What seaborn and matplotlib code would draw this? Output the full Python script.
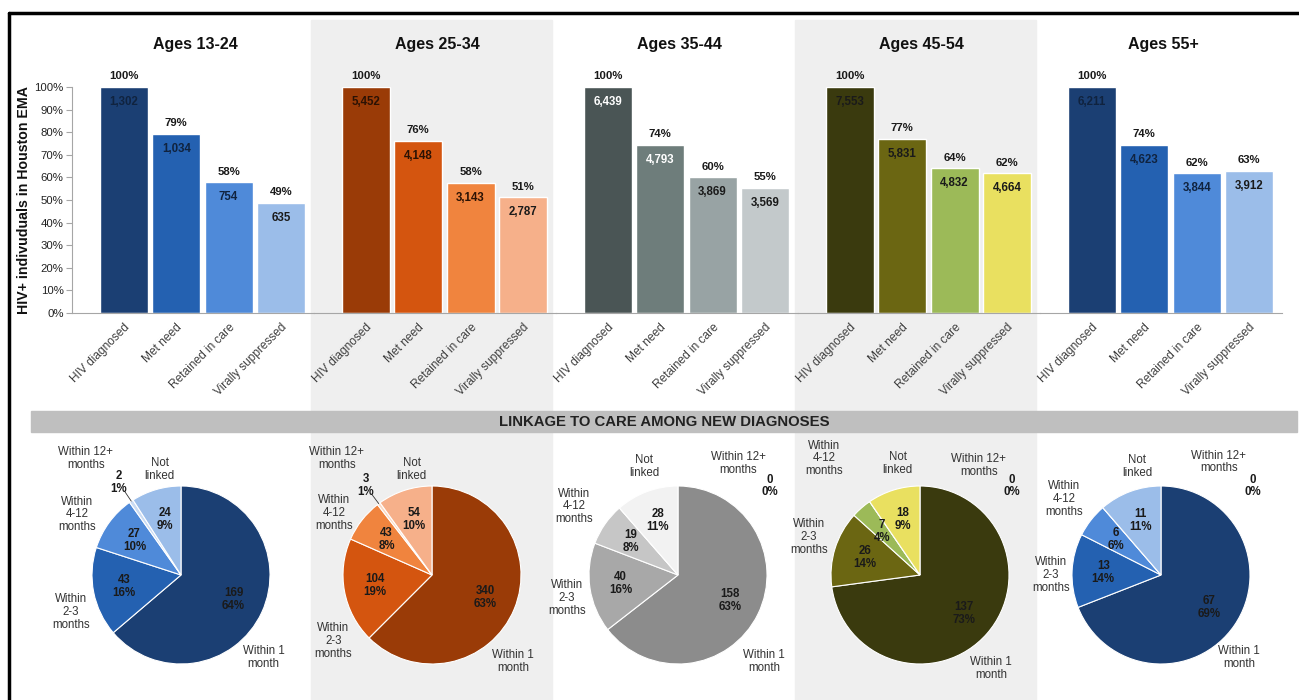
import numpy as np
import pandas as pd
import matplotlib.pyplot as plt
import seaborn as sns
from matplotlib.patches import Rectangle
from matplotlib.lines import Line2D
from matplotlib.ticker import PercentFormatter

sns.set_style("white")
plt.rcParams['font.family'] = ['Liberation Sans', 'DejaVu Sans']

# care continuum by age group
age_groups = ["Ages 13-24", "Ages 25-34", "Ages 35-44", "Ages 45-54", "Ages 55+"]
steps = ["HIV diagnosed", "Met need", "Retained in care", "Virally suppressed"]
counts_1324 = [1302, 1034, 754, 635]
counts_2534 = [5452, 4148, 3143, 2787]
counts_3544 = [6439, 4793, 3869, 3569]
counts_4554 = [7553, 5831, 4832, 4664]
counts_55 = [6211, 4623, 3844, 3912]
pct_1324 = [100, 79, 58, 49]
pct_2534 = [100, 76, 58, 51]
pct_3544 = [100, 74, 60, 55]
pct_4554 = [100, 77, 64, 62]
pct_55 = [100, 74, 62, 63]

# linkage to care among new diagnoses
link_cats = ["Within 1 month", "Within 2-3 months", "Within 4-12 months",
             "Within 12+ months", "Not linked"]
link_1324 = [169, 43, 27, 2, 24]
link_2534 = [340, 104, 43, 3, 54]
link_3544 = [158, 40, 19, 0, 28]
link_4554 = [137, 26, 7, 0, 18]
link_55 = [67, 13, 6, 0, 11]
linkpct_1324 = [64, 16, 10, 1, 9]
linkpct_2534 = [63, 19, 8, 1, 10]
linkpct_3544 = [63, 16, 8, 0, 11]
linkpct_4554 = [73, 14, 4, 0, 9]
linkpct_55 = [69, 14, 6, 0, 11]

all_counts = [counts_1324, counts_2534, counts_3544, counts_4554, counts_55]
all_pcts = [pct_1324, pct_2534, pct_3544, pct_4554, pct_55]
all_links = [link_1324, link_2534, link_3544, link_4554, link_55]
all_linkpcts = [linkpct_1324, linkpct_2534, linkpct_3544, linkpct_4554, linkpct_55]

blues = ["#1b3f73", "#2461b1", "#4f8ad9", "#9bbde9"]
oranges = ["#9a3b07", "#d4550f", "#f0843e", "#f6b08a"]
grays = ["#4a5555", "#6e7d7b", "#98a3a4", "#c3c9cb"]
olives = ["#3a3a0e", "#6b6612", "#9cba58", "#e9e060"]
bar_palettes = [blues, oranges, grays, olives, blues]
count_colors = [["#10233f", "#10233f", "#10233f", "#1a1a1a"],
                ["#2b1204", "#2b1204", "#2b1204", "#1a1a1a"],
                ["white", "white", "#1a1a1a", "#1a1a1a"],
                ["#1a1a1a"] * 4,
                ["#10233f", "#10233f", "#10233f", "#1a1a1a"]]

pie_palettes = [["#1b3f73", "#2461b1", "#4f8ad9", "#c9dbf3", "#9bbde9"],
                ["#9a3b07", "#d4550f", "#f0843e", "#fbd9c2", "#f6b08a"],
                ["#8c8c8c", "#a8a8a8", "#c6c6c6", "#e0e0e0", "#f2f2f2"],
                ["#3a3a0e", "#6b6612", "#9cba58", "#c8d88a", "#e9e060"],
                ["#1b3f73", "#2461b1", "#4f8ad9", "#c9dbf3", "#9bbde9"]]

cat_text = ["Within 1\nmonth", "Within\n2-3\nmonths", "Within\n4-12\nmonths",
            "Within 12+\nmonths", "Not\nlinked"]
# where each category label sits, in pie-radius units
cat_pos = [
    [(0.93, -0.93), (-1.24, -0.42), (-1.17, 0.68), (-1.07, 1.31), (-0.24, 1.19)],
    [(0.91, -0.97), (-1.11, -0.74), (-1.10, 0.70), (-1.07, 1.31), (-0.23, 1.19)],
    [(0.97, -0.97), (-1.25, -0.26), (-1.17, 0.77), (0.68, 1.25), (-0.38, 1.22)],
    [(0.80, -1.05), (-1.25, 0.43), (-1.08, 1.31), (0.66, 1.23), (-0.25, 1.25)],
    [(0.88, -0.93), (-1.24, 0.00), (-1.09, 0.85), (0.65, 1.27), (-0.27, 1.22)],
]

W, H = 1299, 700
fig = plt.figure(figsize=(W / 100, H / 100), dpi=100)
fig.patch.set_facecolor("white")

# shaded columns and frame
for x0, x1 in [(311, 552), (795, 1036)]:
    fig.add_artist(Rectangle((x0 / W, 0), (x1 - x0) / W, 1 - 20 / H,
                             transform=fig.transFigure, color="#efefef", zorder=0))
fig.add_artist(Line2D([9 / W, 1], [1 - 12.5 / H] * 2, color="black", lw=2.5,
                      transform=fig.transFigure))
fig.add_artist(Line2D([9 / W] * 2, [0, 1 - 12.5 / H], color="black", lw=2.5,
                      transform=fig.transFigure))

# bars
ax_w = 242
for i in range(5):
    ax = fig.add_axes([(72 + ax_w * i) / W, (H - 313) / H, ax_w / W, 226 / H])
    ax.set_facecolor("none")
    cnt = all_counts[i]
    df = pd.DataFrame({"step": steps, "share": [c / cnt[0] for c in cnt]})
    sns.barplot(data=df, x="step", y="share", hue="step", order=steps,
                palette=dict(zip(steps, bar_palettes[i])), width=0.92,
                saturation=1, legend=False, ax=ax)
    ax.set_xlim(-0.99, 3.63)
    ax.set_ylim(0, 1)
    for j, p in enumerate(ax.patches):
        xc = p.get_x() + p.get_width() / 2
        top = p.get_height()
        ax.annotate(f"{all_pcts[i][j]}%", (xc, top), xytext=(0, 4),
                    textcoords="offset points", ha="center", va="bottom",
                    fontsize=8.2, fontweight="bold", color="#1a1a1a")
        ax.annotate(f"{cnt[j]:,}", (xc, top), xytext=(0, -6.5),
                    textcoords="offset points", ha="center", va="top",
                    fontsize=8.3, fontweight="bold", color=count_colors[i][j])
    ax.text(0.51, 1.19, age_groups[i], transform=ax.transAxes, ha="center",
            va="center", fontsize=11.5, fontweight="bold", color="#111111")
    ax.set_xlabel("")
    ax.set_xticks(range(4))
    ax.set_xticklabels(steps, rotation=45, ha="right", rotation_mode="anchor",
                       fontsize=8.6, color="#404040")
    ax.tick_params(axis="x", length=0, pad=6)
    for s in ["top", "right"]:
        ax.spines[s].set_visible(False)
    ax.spines["bottom"].set_color("#a6a6a6")
    if i == 0:
        ax.spines["left"].set_color("#a6a6a6")
        ax.set_yticks(np.arange(0, 1.01, 0.1))
        ax.yaxis.set_major_formatter(PercentFormatter(1.0, decimals=0))
        ax.tick_params(axis="y", length=4, color="#a6a6a6", labelsize=8.2,
                       labelcolor="#222222", pad=2, left=True)
        ax.set_ylabel("HIV+ indivuduals in Houston EMA", fontsize=10.2,
                      fontweight="bold", color="#111111")
        ax.yaxis.set_label_coords(-(72 - 31) / ax_w, 0.5)
    else:
        ax.spines["left"].set_visible(False)
        ax.set_yticks([])
        ax.set_ylabel("")

# banner
fig.add_artist(Rectangle((31 / W, 1 - 432 / H), (1297 - 31) / W, 21 / H,
                         transform=fig.transFigure, color="#bfbfbf", zorder=1))
fig.text(664 / W, 1 - 422 / H, "LINKAGE TO CARE AMONG NEW DIAGNOSES",
         ha="center", va="center", fontsize=10.7, fontweight="bold", color="#222222")

# pies
r_px = 89
pie_cx = [181, 432, 678, 920, 1161]
for i in range(5):
    size = 3 * r_px
    pax = fig.add_axes([(pie_cx[i] - size / 2) / W, (H - 575 - size / 2) / H,
                        size / W, size / H])
    pax.set_facecolor("none")
    vals = all_links[i]
    wedges, _ = pax.pie(vals, colors=pie_palettes[i], startangle=90,
                        counterclock=False, radius=1,
                        wedgeprops=dict(edgecolor="white", linewidth=0.8))
    pax.set_xlim(-1.5, 1.5)
    pax.set_ylim(-1.5, 1.5)
    pax.set_aspect("equal")
    pax.axis("off")
    for j, w in enumerate(wedges):
        lbl = f"{vals[j]}\n{all_linkpcts[i][j]}%"
        mid = np.deg2rad((w.theta1 + w.theta2) / 2)
        if vals[j] == 0:
            x, y = 1.03, 1.0
        elif all_linkpcts[i][j] <= 1:
            x, y = 1.25 * np.cos(mid), 1.25 * np.sin(mid)
            pax.plot([1.0 * np.cos(mid), 1.13 * np.cos(mid)],
                     [1.0 * np.sin(mid), 1.13 * np.sin(mid)],
                     color="#333333", lw=0.6, clip_on=False)
        else:
            x, y = 0.65 * np.cos(mid), 0.65 * np.sin(mid)
        pax.text(x, y, lbl, ha="center", va="center", fontsize=8.3,
                 fontweight="bold", color="#1a1a1a", linespacing=1.1)
        cx, cy = cat_pos[i][j]
        pax.text(cx, cy, cat_text[j], ha="center", va="center", fontsize=8.3,
                 color="#333333", linespacing=1.1)

fig.savefig("out.png", dpi=100, facecolor="white")
